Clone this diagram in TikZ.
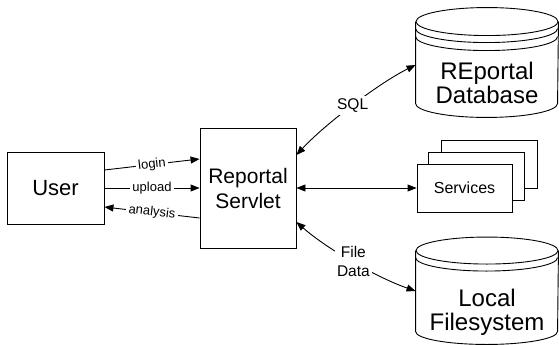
\documentclass[tikz,border=0pt]{standalone}
\usepackage{fontspec}
\setmainfont{Liberation Sans}
\usetikzlibrary{arrows.meta}
\begin{document}
\begin{tikzpicture}[x=1pt,y=-1pt,line width=0.9pt,
  >={Triangle[length=9pt,width=7pt]},
  box/.style={draw, rectangle, fill=white, inner sep=0pt, align=center},
  body/.style={rectangle, inner sep=0pt, minimum width=142pt},
  lbl/.style={fill=white, inner sep=2.5pt, font=\fontsize{13}{15}\selectfont},
  mlbl/.style={fill=white, inner sep=2.5pt, align=center, font=\fontsize{15.5}{19}\selectfont},
  cyltext/.style={align=center, inner sep=0pt, font=\fontsize{24}{24}\selectfont}]
\useasboundingbox (0,0) rectangle (559,345);
% User and servlet
\node[box, minimum width=97pt, minimum height=72pt, font=\fontsize{22}{26}\selectfont] (user) at (55.5,188) {User};
\node[box, minimum width=96pt, minimum height=120pt, font=\fontsize{21}{25}\selectfont] (servlet) at (248,188) {Reportal\\Servlet};
% Database cylinder
\node[body, minimum height=81pt] (db) at (487,62.5) {};
\draw (db.north) ellipse [x radius=71pt, y radius=14pt];
\draw ([yshift=-7pt]db.north west) arc [start angle=180, end angle=360, x radius=71pt, y radius=14pt];
\draw ([yshift=-15pt]db.north west) arc [start angle=180, end angle=360, x radius=71pt, y radius=14pt];
\draw (db.north west) -- (db.south west) arc [start angle=180, end angle=360, x radius=71pt, y radius=14pt] -- (db.north east);
\node[cyltext] (dbtext) at (487,83.3) {REportal\\Database};
% Local filesystem cylinder
\node[body, minimum height=80pt] (local) at (487,291) {};
\draw (local.north) ellipse [x radius=71pt, y radius=13.5pt];
\draw ([yshift=-7pt]local.north west) arc [start angle=180, end angle=360, x radius=71pt, y radius=13.5pt];
\draw (local.north west) -- (local.south west) arc [start angle=180, end angle=360, x radius=71pt, y radius=13pt] -- (local.north east);
\node[cyltext] (localtext) at (487,312.3) {Local\\Filesystem};
% Services stack
\node[box, minimum width=96pt, minimum height=48pt] (svcback) at (489,164) {};
\node[box, minimum width=96pt, minimum height=48pt] (svcmid) at (476,176) {};
\node[box, minimum width=95pt, minimum height=48pt, font=\fontsize{16}{18}\selectfont] (services) at (464.5,188) {Services};
% Connectors
\draw[->] ([yshift=18pt]user.east) -- node[lbl, sloped] {login} ([yshift=29pt]servlet.west);
\draw[->] (user.east) -- node[lbl] {upload} (servlet.west);
\draw[->] ([yshift=-30pt]servlet.west) -- node[lbl, sloped] {analysis} ([yshift=-19pt]user.east);
\draw[<->] (servlet.east) -- (services.west);
\draw[<->] ([yshift=33pt]servlet.east) .. controls (324,125) and (379,83) .. node[mlbl] {SQL} ([yshift=-2.5pt]db.west);
\draw[<->] ([yshift=-34pt]servlet.east) .. controls (327,249) and (378,278) .. node[mlbl] {File\\Data} (local.west);
\end{tikzpicture}
\end{document}
